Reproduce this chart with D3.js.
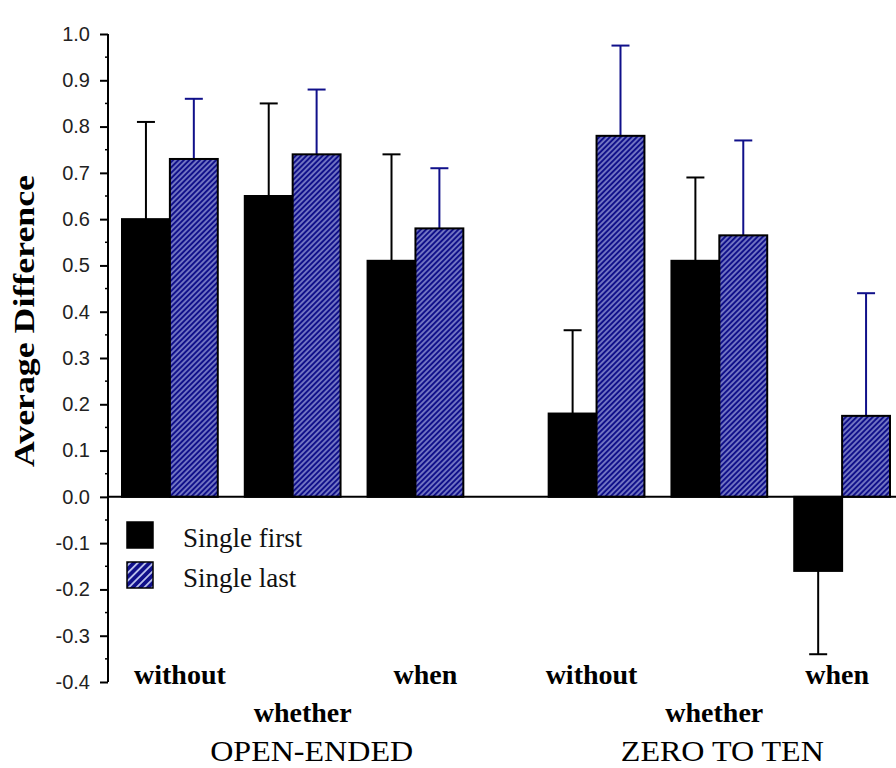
<!DOCTYPE html>
<html>
<head>
<meta charset="utf-8">
<script src="https://cdn.jsdelivr.net/npm/d3@7"></script>
<style>
body { margin: 0; background: #fff; }
</style>
</head>
<body>
<div id="graph"></div>
<script>
var groups = ["OPEN-ENDED", "ZERO TO TEN"];
var categories = ["without", "whether", "when"];
var seriesNames = ["Single first", "Single last"];

// one value per group x category, in order
var singleFirst = [0.60, 0.65, 0.51, 0.18, 0.51, -0.16];
var singleFirstErr = [0.21, 0.20, 0.23, 0.18, 0.18, 0.18];
var singleLast = [0.73, 0.74, 0.58, 0.78, 0.565, 0.175];
var singleLastErr = [0.13, 0.14, 0.13, 0.195, 0.205, 0.265];

var yTicks = [-0.4, -0.3, -0.2, -0.1, 0.0, 0.1, 0.2, 0.3, 0.4, 0.5, 0.6, 0.7, 0.8, 0.9, 1.0];

var w = 896, h = 768;
var serif = "'Times New Roman', 'Liberation Serif', serif";
var navy = "#10108a";
// labels sit a little off the bar centres in the original
var catShift = [6, -9];
var groupShift = [19, 3];

var svg = d3.select("#graph")
	.append("svg")
	.attr("width", w)
	.attr("height", h);

var defs = svg.append("defs");

function hatch(id, size, line) {
	var p = defs.append("pattern")
		.attr("id", id)
		.attr("patternUnits", "userSpaceOnUse")
		.attr("width", size)
		.attr("height", size)
		.attr("patternTransform", "rotate(45)");
	p.append("rect")
		.attr("width", size)
		.attr("height", size)
		.attr("fill", navy);
	p.append("line")
		.attr("x1", size / 2).attr("y1", 0)
		.attr("x2", size / 2).attr("y2", size)
		.attr("stroke", "#dde4ff")
		.attr("stroke-width", line);
}
hatch("hatch", 3.8, 0.9);
hatch("hatchBig", 5.5, 1.5);

var y = d3.scaleLinear()
	.domain([-0.4, 1.0])
	.range([682, 34]);

var xGroup = d3.scaleBand()
	.domain(groups)
	.range([122, 890])
	.paddingInner(0.2)
	.paddingOuter(0);

var xCat = d3.scaleBand()
	.domain(categories)
	.range([0, xGroup.bandwidth()])
	.paddingInner(0.22)
	.paddingOuter(0);

var xSeries = d3.scaleBand()
	.domain(seriesNames)
	.range([0, xCat.bandwidth()]);

var rows = [];
groups.forEach(function(g, gi) {
	categories.forEach(function(c, ci) {
		var k = gi * categories.length + ci;
		rows.push({group: g, gi: gi, cat: c, idx: ci, series: seriesNames[0], value: singleFirst[k], err: singleFirstErr[k]});
		rows.push({group: g, gi: gi, cat: c, idx: ci, series: seriesNames[1], value: singleLast[k], err: singleLastErr[k]});
	});
});

function barX(d) {
	return xGroup(d.group) + xCat(d.cat) + xSeries(d.series);
}

function errEnd(d) {
	return y(d.value < 0 ? d.value - d.err : d.value + d.err);
}

// error bars first, bars drawn over them
var errs = svg.append("g").selectAll("g")
	.data(rows)
	.enter()
	.append("g")
	.attr("stroke", function(d) { return d.series == seriesNames[0] ? "#000" : navy; })
	.attr("stroke-width", 2);

errs.append("line")
	.attr("x1", function(d) { return barX(d) + xSeries.bandwidth() / 2; })
	.attr("x2", function(d) { return barX(d) + xSeries.bandwidth() / 2; })
	.attr("y1", function(d) { return y(d.value); })
	.attr("y2", errEnd);

errs.append("line")
	.attr("x1", function(d) { return barX(d) + xSeries.bandwidth() / 2 - 9; })
	.attr("x2", function(d) { return barX(d) + xSeries.bandwidth() / 2 + 9; })
	.attr("y1", errEnd)
	.attr("y2", errEnd);

svg.append("g").selectAll("rect")
	.data(rows)
	.enter()
	.append("rect")
	.attr("x", function(d) { return barX(d); })
	.attr("width", xSeries.bandwidth())
	.attr("y", function(d) { return y(Math.max(0, d.value)); })
	.attr("height", function(d) { return Math.abs(y(d.value) - y(0)); })
	.attr("fill", function(d) { return d.series == seriesNames[0] ? "#000" : "url(#hatch)"; })
	.attr("stroke", "#000")
	.attr("stroke-width", 2);

// zero line
svg.append("line")
	.attr("x1", 108).attr("x2", w)
	.attr("y1", y(0)).attr("y2", y(0))
	.attr("stroke", "#000")
	.attr("stroke-width", 2);

// y axis
var yAxis = svg.append("g")
	.attr("transform", "translate(108,0)")
	.call(d3.axisLeft(y).tickValues(yTicks).tickSize(8).tickPadding(10));
yAxis.select(".domain").attr("stroke-width", 2).attr("d", "M0," + y(1.0) + "V" + y(-0.4));
yAxis.selectAll(".tick line").attr("stroke-width", 2);
yAxis.selectAll(".tick text")
	.attr("font-family", "Arial, 'Liberation Sans', sans-serif")
	.attr("font-size", 20)
	.attr("fill", "#222")
	.text(function(d) { return d3.format(".1f")(d).replace("−", "-"); });

svg.append("g")
	.attr("transform", "translate(108,0)")
	.selectAll("line")
	.data(yTicks.slice(1))
	.enter()
	.append("line")
	.attr("x1", -3).attr("x2", 0)
	.attr("y1", function(d) { return y(d - 0.05); })
	.attr("y2", function(d) { return y(d - 0.05); })
	.attr("stroke", "#000")
	.attr("stroke-width", 1.5);

svg.append("text")
	.attr("transform", "translate(34," + (y(0.38)) + ") rotate(-90)")
	.attr("text-anchor", "middle")
	.attr("font-family", serif)
	.attr("font-weight", "bold")
	.attr("font-size", 30)
	.attr("textLength", 292)
	.attr("lengthAdjust", "spacingAndGlyphs")
	.text("Average Difference");

// category labels, staggered
svg.append("g").selectAll("text")
	.data(rows.filter(function(d) { return d.series == seriesNames[0]; }))
	.enter()
	.append("text")
	.attr("x", function(d) { return xGroup(d.group) + xCat(d.cat) + xCat.bandwidth() / 2 + 4 + catShift[d.gi]; })
	.attr("y", function(d) { return d.idx == 1 ? 722 : 684; })
	.attr("text-anchor", "middle")
	.attr("font-family", serif)
	.attr("font-weight", "bold")
	.attr("font-size", 28)
	.text(function(d) { return d.cat; });

svg.append("g").selectAll("text")
	.data(groups)
	.enter()
	.append("text")
	.attr("x", function(g, i) { return xGroup(g) + xCat(categories[1]) + xCat.bandwidth() / 2 + groupShift[i]; })
	.attr("y", 761)
	.attr("text-anchor", "middle")
	.attr("font-family", serif)
	.attr("font-size", 29)
	.attr("textLength", 203)
	.attr("lengthAdjust", "spacingAndGlyphs")
	.text(function(g) { return g; });

// legend
var legend = svg.append("g").selectAll("g")
	.data(seriesNames)
	.enter()
	.append("g")
	.attr("transform", function(d, i) { return "translate(127," + (522 + i * 40) + ")"; });

legend.append("rect")
	.attr("width", 26)
	.attr("height", 26)
	.attr("fill", function(d, i) { return i == 0 ? "#000" : "url(#hatchBig)"; })
	.attr("stroke", "#000")
	.attr("stroke-width", 1.5);

legend.append("text")
	.attr("x", 56)
	.attr("y", 25)
	.attr("font-family", serif)
	.attr("font-size", 27)
	.attr("fill", "#111")
	.text(function(d) { return d; });
</script>
</body>
</html>
